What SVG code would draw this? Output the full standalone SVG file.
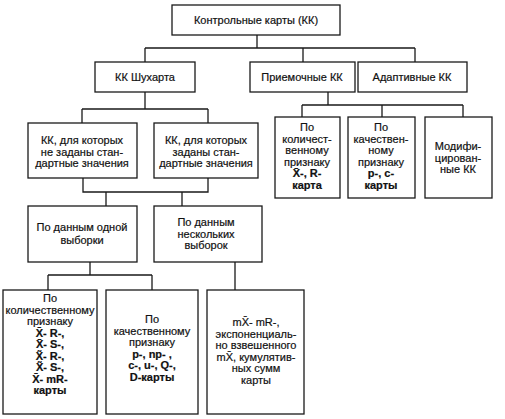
<svg xmlns="http://www.w3.org/2000/svg" width="505" height="419" viewBox="0 0 505 419">
<style>
rect{fill:#fff;stroke:#1a1a1a;stroke-width:1.3}
#connectors path{fill:none;stroke:#1a1a1a;stroke-width:1.3}
text{font-family:"Liberation Sans",Arial,sans-serif;font-size:11px;fill:#111;stroke:#111;stroke-width:0.2;text-anchor:middle}
.b{font-weight:bold}
</style>
<rect x="0" y="0" width="505" height="419" style="fill:#fff;stroke:none"/>
<g id="connectors">
<path d="M257 35V48M145 48H415M145 48V62M303 48V62M415 48V62"/>
<path d="M328 92V105M302 105H463M302 105V117M382 105V117M463 105V117"/>
<path d="M145 92V109M82 109H208M82 109V123M208 109V123"/>
<path d="M83 178V192H208V178M106 192V206M182 192V206"/>
<path d="M90 262V275M48 275H152M48 275V290M152 275V290M235 262V290"/>
</g>
<g id="root"><rect x="172" y="5" width="168" height="30"/><text x="256" y="24">Контрольные карты (КК)</text></g>
<g id="shewhart"><rect x="95" y="62" width="100" height="30"/><text x="145" y="81">КК Шухарта</text></g>
<g id="acceptance"><rect x="250" y="62" width="105" height="30"/><text x="302" y="81">Приемочные КК</text></g>
<g id="adaptive"><rect x="358" y="62" width="109" height="30"/><text x="412" y="81">Адаптивные КК</text></g>
<g id="acc-quant"><rect x="275" y="117" width="65" height="81"/>
<text x="307" y="131">По</text><text x="307" y="142.5">количест-</text><text x="307" y="154">венному</text><text x="307" y="165.5">признаку</text>
<text x="307" y="177" class="b">X̄-, R-</text><text x="307" y="188.5" class="b">карта</text></g>
<g id="acc-qual"><rect x="348" y="117" width="67" height="81"/>
<text x="381" y="131">По</text><text x="381" y="142.5">качествен-</text><text x="381" y="154">ному</text><text x="381" y="165.5">признаку</text>
<text x="381" y="177" class="b">p-, c-</text><text x="381" y="188.5" class="b">карты</text></g>
<g id="modified"><rect x="425" y="117" width="67" height="81"/>
<text x="458" y="150">Модифи-</text><text x="458" y="161.5">цирован-</text><text x="458" y="173">ные КК</text></g>
<g id="not-given"><rect x="28" y="123" width="109" height="55"/>
<text x="82" y="144">КК, для которых</text><text x="82" y="155.5">не заданы стан-</text><text x="82" y="167">дартные значения</text></g>
<g id="given"><rect x="154" y="123" width="104" height="55"/>
<text x="206" y="144">КК, для которых</text><text x="206" y="155.5">заданы стан-</text><text x="206" y="167">дартные значения</text></g>
<g id="one-sample"><rect x="28" y="206" width="109" height="56"/>
<text x="82" y="231">По данным одной</text><text x="82" y="243.5">выборки</text></g>
<g id="several-samples"><rect x="154" y="206" width="108" height="56"/>
<text x="206" y="226">По данным</text><text x="206" y="237.5">нескольких</text><text x="206" y="249">выборок</text></g>
<g id="quant"><rect x="3" y="290" width="94" height="124"/>
<text x="50" y="302">По</text><text x="50" y="313.5">количественному</text><text x="50" y="325">признаку</text>
<text x="50" y="336.5" class="b">X̄- R-,</text><text x="50" y="348" class="b">X̄- S-,</text><text x="50" y="359.5" class="b">X̃- R-,</text><text x="50" y="371" class="b">X̃- S-,</text><text x="50" y="382.5" class="b">X̄- mR-</text><text x="50" y="394" class="b">карты</text></g>
<g id="qual"><rect x="106" y="290" width="92" height="124"/>
<text x="152" y="323">По</text><text x="152" y="334.5">качественному</text><text x="152" y="346">признаку</text>
<text x="152" y="357.5" class="b">p-, np- ,</text><text x="152" y="369" class="b">c-, u-, Q-,</text><text x="152" y="380.5" class="b">D-карты</text></g>
<g id="cumulative"><rect x="207" y="290" width="97" height="124"/>
<text x="256" y="326">mX̄- mR-,</text><text x="256" y="337.5">экспоненциаль-</text><text x="256" y="349">но взвешенного</text><text x="256" y="360.5">mX̄, кумулятив-</text><text x="256" y="372">ных сумм</text><text x="256" y="383.5">карты</text></g>
</svg>
